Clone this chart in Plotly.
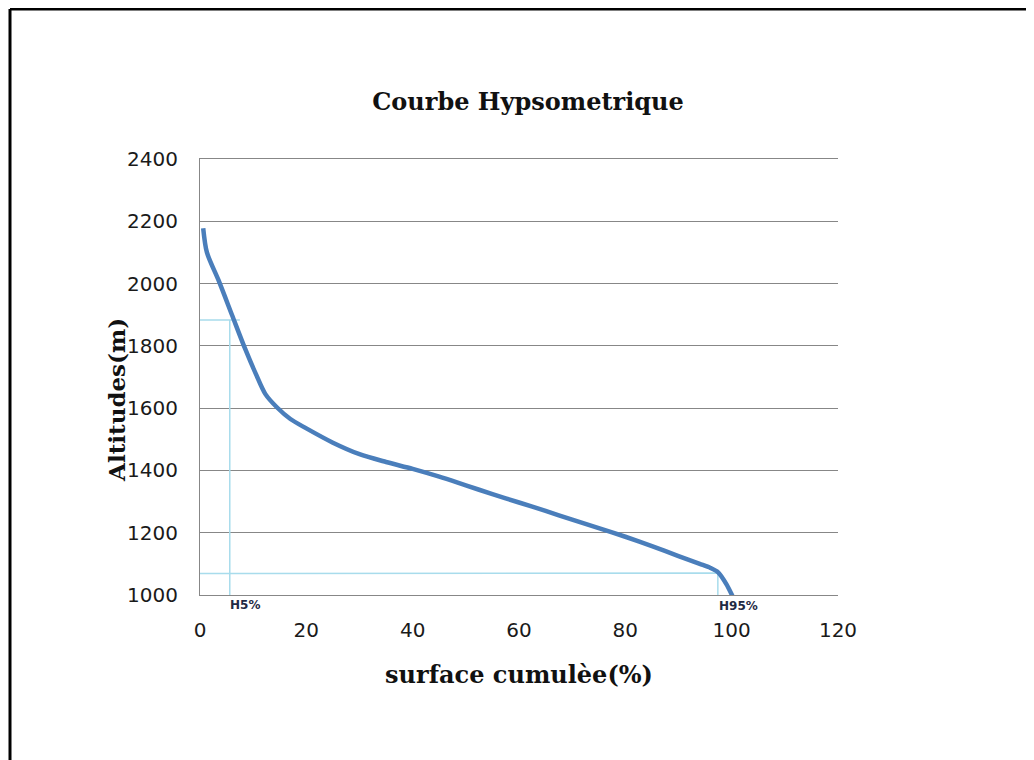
import plotly.graph_objects as go

# Hypsometric curve: cumulative surface (%) vs altitude (m)
surface_pct = [0.6, 1.3, 3.5, 6.0, 8.5, 10.5, 12.3, 14.5, 17, 20, 25, 30, 35, 40, 45, 50, 55, 60, 65, 70, 75, 80, 85, 90, 94, 96, 97.5, 99, 100.2]
altitude_m = [2178, 2100, 2010, 1900, 1790, 1710, 1645, 1602, 1565, 1535, 1489, 1452, 1427, 1405, 1380, 1352, 1324, 1297, 1270, 1242, 1215, 1187, 1157, 1125, 1100, 1087, 1072, 1035, 995]

# Guide lines for H5% and H95%
h5_x = [-0.3, 7.5, 5.6, 5.6]
h5_alt = [1883, 1883, 1883, 995]
h95_x = [0, 48.8, 48.8, 97.4, 97.4]
h95_alt = [1069, 1069, 1071, 1071, 995]
h5_label_pos = (8.5, 1000)
h95_label_pos = (101.2, 1000)

x_ticks = [0, 20, 40, 60, 80, 100, 120]
y_ticks = [1000, 1200, 1400, 1600, 1800, 2000, 2200, 2400]

guide_color = "#a8dcec"
grid_color = "#878787"

fig = go.Figure()
fig.add_trace(go.Scatter(x=h5_x, y=h5_alt, mode="lines",
                         line=dict(color=guide_color, width=1.5),
                         hoverinfo="skip", showlegend=False, cliponaxis=False))
fig.add_trace(go.Scatter(x=h95_x, y=h95_alt, mode="lines",
                         line=dict(color=guide_color, width=1.5),
                         hoverinfo="skip", showlegend=False, cliponaxis=False))
fig.add_trace(go.Scatter(x=surface_pct, y=altitude_m, mode="lines",
                         line=dict(color="#4a7ebb", width=4.5, shape="spline", smoothing=0.8),
                         showlegend=False, cliponaxis=False))

fig.add_annotation(x=h5_label_pos[0], y=h5_label_pos[1], text="<b>H5%</b>",
                   showarrow=False, yanchor="top", yshift=-1,
                   font=dict(family="DejaVu Sans", size=12, color="#1f2a44"))
fig.add_annotation(x=h95_label_pos[0], y=h95_label_pos[1], text="<b>H95%</b>",
                   showarrow=False, yanchor="top", yshift=-2,
                   font=dict(family="DejaVu Sans", size=12, color="#1f2a44"))

# Y-axis title placed as in the reference (slightly below plot centre)
fig.add_annotation(xref="paper", yref="paper", x=-0.132, y=0.447,
                   text="<b>Altitudes(m)</b>", textangle=-90, showarrow=False,
                   xanchor="center", yanchor="middle",
                   font=dict(family="DejaVu Serif", size=23, color="#111111"))

# Outer frame (left and top edges visible)
fig.add_shape(type="line", xref="paper", yref="paper",
              x0=-0.2978, x1=-0.2978, y0=-0.5, y1=1.344,
              line=dict(color="black", width=3))
fig.add_shape(type="line", xref="paper", yref="paper",
              x0=-0.2978, x1=1.5, y0=1.344, y1=1.344,
              line=dict(color="black", width=3))

fig.update_layout(
    width=1034, height=760,
    margin=dict(l=192, r=204, t=151, b=173),
    paper_bgcolor="white", plot_bgcolor="white",
    title=dict(text="<b>Courbe Hypsometrique</b>", x=(528 - 8) / 1034, xanchor="center",
               y=1 - 94 / 760, yanchor="middle",
               font=dict(family="DejaVu Serif", size=24, color="#111111")),
    xaxis=dict(range=[0, 120], tickvals=x_ticks, showgrid=False, zeroline=False,
               showline=True, mirror=True, linecolor=grid_color, linewidth=1,
               ticks="", ticklabelstandoff=17,
               tickfont=dict(family="DejaVu Sans", size=20, color="#1a1a1a"),
               title=dict(text="<b>surface cumulèe(%)</b>", standoff=25,
                          font=dict(family="DejaVu Serif", size=24, color="#111111"))),
    yaxis=dict(range=[1000, 2400], tickvals=y_ticks, showgrid=True,
               gridcolor=grid_color, gridwidth=1, zeroline=False,
               showline=True, linecolor=grid_color, linewidth=1, ticks="",
               ticklabelstandoff=17,
               tickfont=dict(family="DejaVu Sans", size=20, color="#1a1a1a")),
)

fig.write_html("out.html")
